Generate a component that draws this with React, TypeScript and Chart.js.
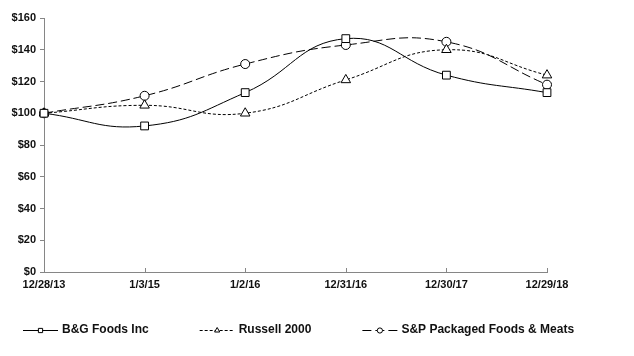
import React, { useEffect, useRef } from "react";
import { Chart, registerables } from "chart.js";
import { drawPoint } from "chart.js/helpers";

Chart.register(...registerables);

const categories = ["12/28/13", "1/3/15", "1/2/16", "12/31/16", "12/30/17", "12/29/18"];
const bgFoods = [100, 92, 113, 147, 124, 113];
const russell2000 = [100, 105, 100, 121, 140, 124];
const spPackaged = [100, 111, 131, 143, 145, 118];
const yTicks = [0, 20, 40, 60, 80, 100, 120, 140, 160];

const FONT = "'Liberation Sans', Arial, sans-serif";
const AXIS = "#868686";

const xTickPlugin = {
  id: "xInnerTicks",
  afterDatasetsDraw(chart: any) {
    const x = chart.scales.x;
    const ctx = chart.ctx;
    ctx.save();
    ctx.strokeStyle = AXIS;
    ctx.lineWidth = 1;
    ctx.beginPath();
    for (let i = 0; i < x.ticks.length; i++) {
      const px = Math.round(x.getPixelForTick(i)) + 0.5;
      ctx.moveTo(px, x.top - 4);
      ctx.lineTo(px, x.top);
    }
    ctx.stroke();
    ctx.restore();
  },
};

const legendPlugin = {
  id: "customLegend",
  afterDraw(chart: any) {
    const ctx = chart.ctx;
    const y = 330;
    let x = 23;
    const iconW = 35;
    const legendRadius: Record<string, number> = { rect: 3, triangle: 3, circle: 2.6 };
    ctx.save();
    ctx.font = `bold 12px ${FONT}`;
    ctx.textBaseline = "middle";
    chart.data.datasets.forEach((ds: any) => {
      ctx.save();
      ctx.strokeStyle = ds.borderColor;
      ctx.lineWidth = ds.borderWidth;
      ctx.setLineDash(ds.borderDash || []);
      ctx.beginPath();
      ctx.moveTo(x, y + 0.5);
      ctx.lineTo(x + iconW, y + 0.5);
      ctx.stroke();
      ctx.setLineDash([]);
      ctx.fillStyle = "#fff";
      ctx.strokeStyle = ds.pointBorderColor;
      ctx.lineWidth = 1;
      drawPoint(ctx, { pointStyle: ds.pointStyle, radius: legendRadius[ds.pointStyle], rotation: 0, borderWidth: 1 }, x + iconW / 2, y + 0.5);
      ctx.restore();
      ctx.fillStyle = "#111";
      const tx = x + iconW + 4;
      ctx.fillText(ds.label, tx, y);
      x = tx + ctx.measureText(ds.label).width + 51;
    });
    ctx.restore();
  },
};

export default function App() {
  const ref = useRef<HTMLCanvasElement>(null);
  useEffect(() => {
    document.body.style.margin = "0";
    const common = {
      borderColor: "#000",
      borderWidth: 1,
      pointBackgroundColor: "#fff",
      pointBorderColor: "#000",
      pointBorderWidth: 1,
      tension: 0.45,
      fill: false,
    };
    const chart = new Chart(ref.current!, {
      type: "line",
      data: {
        labels: categories,
        datasets: [
          { ...common, label: "B&G Foods Inc", data: bgFoods, pointStyle: "rect", pointRadius: 5.5 },
          { ...common, label: "Russell 2000", data: russell2000, borderDash: [3, 2], pointStyle: "triangle", pointRadius: 5.5 },
          { ...common, label: "S&P Packaged Foods & Meats", data: spPackaged, borderDash: [9, 4], pointStyle: "circle", pointRadius: 4.5 },
        ],
      },
      options: {
        animation: false,
        responsive: false,
        layout: { padding: { left: 0, right: 87, top: 18, bottom: 0 } },
        plugins: { legend: { display: false }, tooltip: { enabled: false } },
        scales: {
          x: {
            type: "category",
            offset: false,
            grid: { display: false, tickLength: 0, drawTicks: false },
            border: { display: true, color: AXIS, width: 1 },
            ticks: { color: "#111", font: { family: FONT, size: 11, weight: "bold" }, padding: 6, maxRotation: 0, autoSkip: false },
            afterFit(scale: any) { scale.height = 84; },
          },
          y: {
            min: 0,
            max: 160,
            afterBuildTicks(scale: any) { scale.ticks = yTicks.map((v) => ({ value: v })); },
            grid: { drawOnChartArea: false, drawTicks: true, tickLength: 4, color: AXIS },
            border: { display: true, color: AXIS, width: 1 },
            ticks: { color: "#111", font: { family: FONT, size: 11, weight: "bold" }, padding: 4, callback: (v: any) => "$" + v },
            afterFit(scale: any) { scale.width = 44; },
          },
        },
      },
      plugins: [xTickPlugin, legendPlugin],
    });
    return () => chart.destroy();
  }, []);
  return <canvas ref={ref} width={634} height={356} style={{ display: "block" }} />;
}
